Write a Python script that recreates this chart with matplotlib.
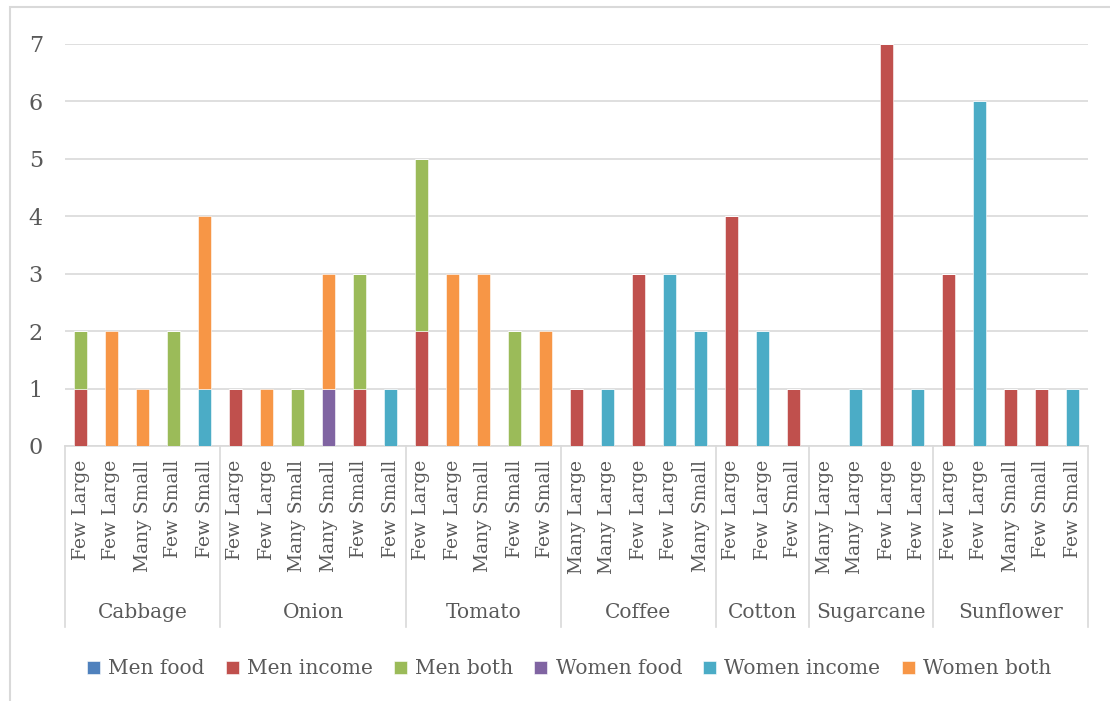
import numpy as np
import matplotlib.pyplot as plt
from matplotlib.patches import Rectangle
from matplotlib.transforms import blended_transform_factory

# Crop groups and farm types (one bar each)
crops = ['Cabbage', 'Onion', 'Tomato', 'Coffee', 'Cotton', 'Sugarcane', 'Sunflower']
group_sizes = [5, 6, 5, 5, 3, 4, 5]
farm_types = ['Few Large', 'Few Large', 'Many Small', 'Few Small', 'Few Small',
              'Few Large', 'Few Large', 'Many Small', 'Many Small', 'Few Small', 'Few Small',
              'Few Large', 'Few Large', 'Many Small', 'Few Small', 'Few Small',
              'Many Large', 'Many Large', 'Few Large', 'Few Large', 'Many Small',
              'Few Large', 'Few Large', 'Few Small',
              'Many Large', 'Many Large', 'Few Large', 'Few Large',
              'Few Large', 'Few Large', 'Many Small', 'Few Small', 'Few Small']

men_food     = [0, 0, 0, 0, 0,  0, 0, 0, 0, 0, 0,  0, 0, 0, 0, 0,  0, 0, 0, 0, 0,  0, 0, 0,  0, 0, 0, 0,  0, 0, 0, 0, 0]
men_income   = [1, 0, 0, 0, 0,  1, 0, 0, 0, 1, 0,  2, 0, 0, 0, 0,  1, 0, 3, 0, 0,  4, 0, 1,  0, 0, 7, 0,  3, 0, 1, 1, 0]
men_both     = [1, 0, 0, 2, 0,  0, 0, 1, 0, 2, 0,  3, 0, 0, 2, 0,  0, 0, 0, 0, 0,  0, 0, 0,  0, 0, 0, 0,  0, 0, 0, 0, 0]
women_food   = [0, 0, 0, 0, 0,  0, 0, 0, 1, 0, 0,  0, 0, 0, 0, 0,  0, 0, 0, 0, 0,  0, 0, 0,  0, 0, 0, 0,  0, 0, 0, 0, 0]
women_income = [0, 0, 0, 0, 1,  0, 0, 0, 0, 0, 1,  0, 0, 0, 0, 0,  0, 1, 0, 3, 2,  0, 2, 0,  0, 1, 0, 1,  0, 6, 0, 0, 1]
women_both   = [0, 2, 1, 0, 3,  0, 1, 0, 2, 0, 0,  0, 3, 3, 0, 2,  0, 0, 0, 0, 0,  0, 0, 0,  0, 0, 0, 0,  0, 0, 0, 0, 0]

series = [('Men food', men_food, '#4F81BD'),
          ('Men income', men_income, '#C0504D'),
          ('Men both', men_both, '#9BBB59'),
          ('Women food', women_food, '#8064A2'),
          ('Women income', women_income, '#4BACC6'),
          ('Women both', women_both, '#F79646')]

txt = '#595959'
grid = '#d9d9d9'
plt.rcParams['font.family'] = ['DejaVu Serif']

fig = plt.figure(figsize=(11.1, 7.01), dpi=100)
ax = fig.add_axes([65 / 1110, 1 - 446 / 701, 1023 / 1110, 402 / 701])

x = np.arange(len(farm_types))
bottom = np.zeros(len(farm_types))
for name, vals, col in series:
    v = np.array(vals, dtype=float)
    ax.bar(x, v, 0.42, bottom=bottom, color=col, label=name,
           edgecolor='white', linewidth=0.4, zorder=3)
    bottom += v

ax.set_xlim(-0.5, len(farm_types) - 0.5)
ax.set_ylim(0, 7)
ax.set_yticks(range(8))
ax.yaxis.grid(True, color=grid, linewidth=1.2, zorder=0)
for s in ['top', 'right', 'left']:
    ax.spines[s].set_visible(False)
ax.spines['bottom'].set_color(grid)
ax.spines['bottom'].set_linewidth(1.2)
ax.tick_params(axis='y', length=0, pad=16, labelsize=16, labelcolor=txt)
ax.tick_params(axis='x', length=0, pad=10, labelsize=13.5, labelcolor=txt)
ax.set_xticks(x)
ax.set_xticklabels(farm_types, rotation=90, va='top', ha='center')

# group separators and crop labels under the farm types
tr = blended_transform_factory(ax.transData, ax.transAxes)
sep_low = -181 / 402
edges = np.concatenate([[0], np.cumsum(group_sizes)]) - 0.5
for e in edges:
    ax.plot([e, e], [0, sep_low], transform=tr, color=grid, linewidth=1.2, clip_on=False)
for i, c in enumerate(crops):
    mid = (edges[i] + edges[i + 1]) / 2
    ax.text(mid, -166 / 402, c, transform=tr, ha='center', va='center',
            fontsize=14.5, color=txt)

fig.legend(loc='center', bbox_to_anchor=(569 / 1110, 1 - 669 / 701), ncol=6, frameon=False,
           fontsize=14.5, handlelength=0.65, handleheight=0.65, handletextpad=0.4,
           columnspacing=1.05, labelcolor=txt)

fig.patches.append(Rectangle((10 / 1110, -0.05), 1.2, 1 - 7 / 701 + 0.05,
                             transform=fig.transFigure, fill=False,
                             edgecolor=grid, linewidth=1.5))

fig.savefig('out.png', dpi=100)
